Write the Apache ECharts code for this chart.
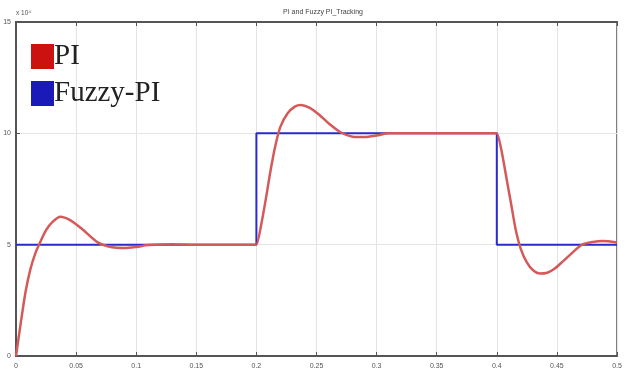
<!DOCTYPE html>
<html>
<head>
<meta charset="utf-8">
<script src="https://cdn.jsdelivr.net/npm/echarts@6/dist/echarts.min.js"></script>
<style>
  html, body { margin: 0; padding: 0; background: #fff; }
  #chart { width: 627px; height: 378px; }
</style>
</head>
<body>
<div id="chart"></div>
<script>
// time (s) and output (x 10^4)
const piPoints = [
  [0, 0], [0.004, 1.5], [0.008, 2.9], [0.012, 3.9], [0.016, 4.6], [0.02, 5.1],
  [0.025, 5.65], [0.03, 6.0], [0.037, 6.25], [0.045, 6.1], [0.055, 5.7], [0.068, 5.1],
  [0.08, 4.88], [0.09, 4.85], [0.1, 4.9], [0.11, 4.98], [0.13, 5.02], [0.15, 5.0],
  [0.199, 5.0], [0.2, 5.0],
  [0.204, 5.9], [0.208, 7.1], [0.212, 8.4], [0.216, 9.5], [0.22, 10.3], [0.226, 10.9],
  [0.232, 11.2], [0.237, 11.27], [0.244, 11.15], [0.252, 10.85], [0.26, 10.45],
  [0.27, 10.05], [0.28, 9.85], [0.29, 9.83], [0.3, 9.9], [0.31, 10.0], [0.35, 10.0],
  [0.399, 10.0], [0.4, 10.0],
  [0.404, 9.2], [0.408, 8.0], [0.412, 6.8], [0.416, 5.6], [0.42, 4.8], [0.425, 4.2],
  [0.43, 3.86], [0.436, 3.7], [0.442, 3.74], [0.448, 3.92], [0.455, 4.25], [0.462, 4.6],
  [0.471, 5.0], [0.48, 5.12], [0.488, 5.16], [0.5, 5.1]
];
const fuzzyPoints = [
  [0, 5], [0.2, 5], [0.2, 10], [0.4, 10], [0.4, 5], [0.5, 5]
];
const seriesNames = ["PI", "Fuzzy-PI"];
const xTicks = [0, 0.05, 0.1, 0.15, 0.2, 0.25, 0.3, 0.35, 0.4, 0.45, 0.5];
const yTicks = [0, 5, 10, 15];

const chart = echarts.init(document.getElementById("chart"));
const labelStyle = { color: "#555", fontSize: 7, fontFamily: "Liberation Sans" };
const gridLine = { show: true, lineStyle: { color: "#e4e4e4", width: 1 } };

chart.setOption({
  animation: false,
  title: {
    text: "PI and Fuzzy PI_Tracking",
    left: 318,
    top: 4,
    textAlign: "center",
    textStyle: { color: "#444", fontSize: 7, fontWeight: "normal", fontFamily: "Liberation Sans" },
  },
  legend: {
    data: seriesNames,
    orient: "vertical",
    left: 26,
    top: 33,
    itemGap: 0,
    itemWidth: 23,
    itemHeight: 25,
    icon: "rect",
    textStyle: {
      fontFamily: "Liberation Serif", fontSize: 29, lineHeight: 37,
      color: "#222", padding: [0, 0, 0, -5],
    },
  },
  grid: {
    left: 16, right: 10, top: 22, bottom: 22,
    show: true, borderColor: "#555", borderWidth: 1.5,
  },
  xAxis: [
    {
      type: "value",
      min: 0, max: 0.5, interval: 0.05,
      axisLine: { lineStyle: { color: "#555", width: 2 } },
      axisTick: { inside: true, length: 4, lineStyle: { color: "#555" } },
      axisLabel: {
        ...labelStyle, margin: 7,
        formatter: (v) => (xTicks.some((t) => Math.abs(t - v) < 1e-9) ? String(+v.toFixed(2)) : ""),
      },
      splitLine: gridLine,
    },
    {
      type: "value",
      position: "top",
      min: 0, max: 0.5, interval: 0.05,
      axisLine: { lineStyle: { color: "#555", width: 2 } },
      axisTick: { inside: true, length: 4, lineStyle: { color: "#555" } },
      axisLabel: { show: false },
      splitLine: { show: false },
    },
  ],
  yAxis: {
    type: "value",
    min: 0, max: 15, interval: 5,
    name: "x 10\u2074",
    nameLocation: "end",
    nameGap: 5,
    nameTextStyle: { ...labelStyle, fontSize: 6.5, align: "left", padding: [0, 0, 0, 0] },
    axisLine: { show: true, lineStyle: { color: "#555", width: 2 } },
    axisTick: { show: true, inside: true, length: 4, lineStyle: { color: "#555" } },
    axisLabel: {
      ...labelStyle, margin: 5,
      formatter: (v) => (yTicks.includes(v) ? String(v) : ""),
    },
    splitLine: gridLine,
  },
  series: [
    {
      name: seriesNames[0],
      type: "line",
      data: piPoints,
      smooth: 0.25,
      showSymbol: false,
      z: 3,
      itemStyle: { color: "#cc1111" },
      lineStyle: { color: "#d45a5a", width: 2.5 },
    },
    {
      name: seriesNames[1],
      type: "line",
      data: fuzzyPoints,
      showSymbol: false,
      z: 2,
      itemStyle: { color: "#1a1ab8" },
      lineStyle: { color: "#2a2ad0", width: 2 },
    },
  ],
});
</script>
</body>
</html>
